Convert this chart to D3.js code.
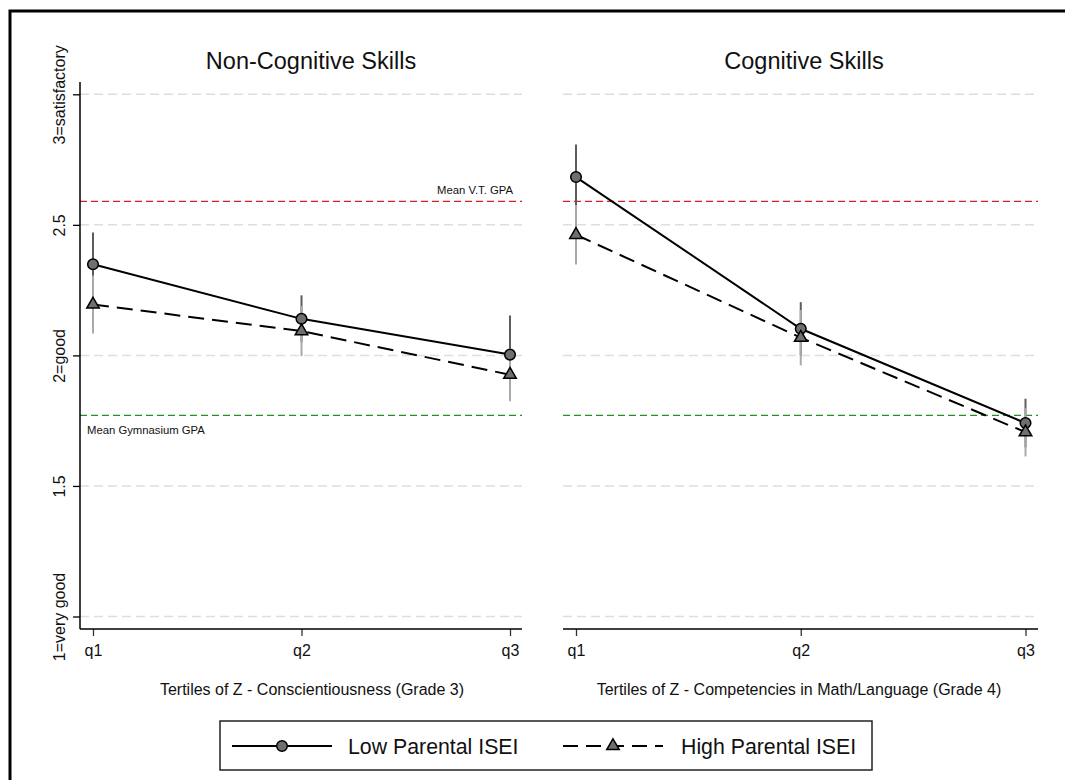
<!DOCTYPE html>
<html>
<head>
<meta charset="utf-8">
<script src="https://cdn.jsdelivr.net/npm/d3@7"></script>
<style>
  html, body { margin: 0; padding: 0; background: #fff; }
  svg { display: block; font-family: "Liberation Sans", Arial, Helvetica, sans-serif; }
</style>
</head>
<body>
<svg id="chart" width="1065" height="780"></svg>
<script>
// Tertile categories shared by both panels
const categories = ["q1", "q2", "q3"];

// Non-cognitive skills panel: predicted GPA with confidence bounds
const nonCogLowMean  = [2.349, 2.140, 2.003];
const nonCogLowLo    = [2.227, 2.050, 1.853];
const nonCogLowHi    = [2.471, 2.230, 2.153];
const nonCogHighMean = [2.195, 2.093, 1.926];
const nonCogHighLo   = [2.084, 1.997, 1.824];
const nonCogHighHi   = [2.306, 2.189, 2.028];

// Cognitive skills panel
const cogLowMean  = [2.683, 2.102, 1.741];
const cogLowLo    = [2.558, 2.000, 1.648];
const cogLowHi    = [2.808, 2.204, 1.834];
const cogHighMean = [2.462, 2.068, 1.706];
const cogHighLo   = [2.348, 1.962, 1.613];
const cogHighHi   = [2.576, 2.174, 1.799];

// Reference means
const meanVT = 2.59;
const meanGym = 1.77;

// Axis ticks
const yTickValues = [1, 1.5, 2, 2.5, 3];
const yTickLabels = ["1=very good", "1.5", "2=good", "2.5", "3=satisfactory"];

const panelTitles = ["Non-Cognitive Skills", "Cognitive Skills"];
const xTitles = ["Tertiles of Z - Conscientiousness (Grade 3)",
                 "Tertiles of Z - Competencies in Math/Language (Grade 4)"];
const legendLabels = ["Low Parental ISEI", "High Parental ISEI"];

const svg = d3.select("#chart");

// Outer frame
svg.append("rect")
  .attr("x", 10).attr("y", 11).attr("width", 1200).attr("height", 900)
  .attr("fill", "none").attr("stroke", "#000").attr("stroke-width", 3);

const y = d3.scaleLinear().domain([1, 3]).range([616.5, 94.3]);
const plotTop = 82, plotBottom = 629;

const panels = [
  {
    left: 80, right: 522, xr: [93, 510], titleX: 311, xTitleX: 312, yAxis: true, labels: true,
    low: {mean: nonCogLowMean, lo: nonCogLowLo, hi: nonCogLowHi},
    high: {mean: nonCogHighMean, lo: nonCogHighLo, hi: nonCogHighHi}
  },
  {
    left: 563, right: 1038, xr: [576, 1025.5], titleX: 804, xTitleX: 799, yAxis: false, labels: false,
    low: {mean: cogLowMean, lo: cogLowLo, hi: cogLowHi},
    high: {mean: cogHighMean, lo: cogHighLo, hi: cogHighHi}
  }
];

const markerFill = "#6f6f6f";
const triangle = d3.symbol().type(d3.symbolTriangle).size(68);

panels.forEach((p, pi) => {
  const x = d3.scalePoint().domain(categories).range(p.xr);
  const g = svg.append("g");

  // Horizontal grid
  g.selectAll("line.grid").data(yTickValues).join("line")
    .attr("x1", p.left).attr("x2", p.right)
    .attr("y1", d => y(d)).attr("y2", d => y(d))
    .attr("stroke", "#dedede").attr("stroke-width", 1.5)
    .attr("stroke-dasharray", "9,5");

  // Reference means
  [[meanVT, "#d81e1e"], [meanGym, "#23902a"]].forEach(([v, c]) => {
    g.append("line")
      .attr("x1", p.left).attr("x2", p.right)
      .attr("y1", y(v)).attr("y2", y(v))
      .attr("stroke", c).attr("stroke-width", 1.3)
      .attr("stroke-dasharray", "7,4");
  });
  if (p.labels) {
    g.append("text").attr("x", 513).attr("y", y(meanVT) - 7)
      .attr("text-anchor", "end").attr("font-size", 11.3).attr("fill", "#111")
      .text("Mean V.T. GPA");
    g.append("text").attr("x", 87).attr("y", y(meanGym) + 19)
      .attr("font-size", 11.3).attr("fill", "#111")
      .text("Mean Gymnasium GPA");
  }

  // Confidence intervals
  const ciColors = ["#5c5c5c", "#a9a9a9"];
  [p.low, p.high].forEach((s, si) => {
    g.selectAll(null).data(categories).join("line")
      .attr("x1", d => x(d)).attr("x2", d => x(d))
      .attr("y1", (d, i) => y(s.lo[i])).attr("y2", (d, i) => y(s.hi[i]))
      .attr("stroke", ciColors[si]).attr("stroke-width", 2);
  });

  // Connected lines
  const line = d3.line().x((d, i) => x(categories[i])).y(d => y(d));
  g.append("path").datum(p.low.mean).attr("d", line)
    .attr("fill", "none").attr("stroke", "#000").attr("stroke-width", 2);
  g.append("path").datum(p.high.mean).attr("d", line)
    .attr("fill", "none").attr("stroke", "#000").attr("stroke-width", 2)
    .attr("stroke-dasharray", "16,8");

  // Markers
  g.selectAll(null).data(p.low.mean).join("circle")
    .attr("cx", (d, i) => x(categories[i])).attr("cy", d => y(d))
    .attr("r", 5.3).attr("fill", markerFill)
    .attr("stroke", "#000").attr("stroke-width", 1.5);
  g.selectAll(null).data(p.high.mean).join("path")
    .attr("d", triangle)
    .attr("transform", (d, i) => `translate(${x(categories[i])},${y(d)})`)
    .attr("fill", markerFill).attr("stroke", "#000").attr("stroke-width", 1.5);

  // X axis
  const xAxis = d3.axisBottom(x).tickSize(7).tickPadding(9);
  const xg = g.append("g").attr("transform", `translate(0,${plotBottom})`).call(xAxis);
  xg.select(".domain").remove();
  xg.append("line").attr("x1", p.left).attr("x2", p.right).attr("y1", 0).attr("y2", 0)
    .attr("stroke", "#000").attr("stroke-width", 1.5);
  xg.selectAll(".tick line").attr("stroke", "#333").attr("stroke-width", 1.3);
  xg.selectAll(".tick text").attr("font-size", 16).attr("fill", "#111")
    .attr("font-family", "Liberation Sans, Arial, sans-serif");

  g.append("text").attr("x", p.xTitleX).attr("y", 695)
    .attr("text-anchor", "middle").attr("font-size", 16).attr("fill", "#111")
    .text(xTitles[pi]);

  // Panel title
  g.append("text").attr("x", p.titleX).attr("y", 69)
    .attr("text-anchor", "middle").attr("font-size", 23.5).attr("fill", "#111")
    .text(panelTitles[pi]);

  // Y axis (left panel only)
  if (p.yAxis) {
    const yAxis = d3.axisLeft(y).tickValues(yTickValues).tickSize(7)
      .tickFormat((d, i) => yTickLabels[i]);
    const yg = g.append("g").attr("transform", `translate(${p.left},0)`).call(yAxis);
    yg.select(".domain").remove();
    yg.append("line").attr("x1", 0).attr("x2", 0).attr("y1", plotTop).attr("y2", plotBottom)
      .attr("stroke", "#000").attr("stroke-width", 1.5);
    yg.selectAll(".tick line").attr("stroke", "#000").attr("stroke-width", 1.3);
    yg.selectAll(".tick text")
      .attr("x", null).attr("dy", null)
      .attr("transform", "translate(-15,0) rotate(-90)")
      .attr("text-anchor", "middle").attr("font-size", 16).attr("fill", "#111")
      .attr("font-family", "Liberation Sans, Arial, sans-serif");
  }
});

// Legend
const lg = svg.append("g");
lg.append("rect").attr("x", 220).attr("y", 721).attr("width", 652).attr("height", 49)
  .attr("fill", "#fff").attr("stroke", "#222").attr("stroke-width", 1.5);
const legendY = 746;
lg.append("line").attr("x1", 232).attr("x2", 332).attr("y1", legendY).attr("y2", legendY)
  .attr("stroke", "#000").attr("stroke-width", 2);
lg.append("circle").attr("cx", 282).attr("cy", legendY).attr("r", 5.3)
  .attr("fill", markerFill).attr("stroke", "#000").attr("stroke-width", 1.5);
lg.append("text").attr("x", 348).attr("y", 753.5).attr("font-size", 21.3).attr("fill", "#111")
  .text(legendLabels[0]);
lg.append("line").attr("x1", 563).attr("x2", 663).attr("y1", legendY).attr("y2", legendY)
  .attr("stroke", "#000").attr("stroke-width", 2).attr("stroke-dasharray", "15,8");
lg.append("path").attr("d", triangle)
  .attr("transform", `translate(613,${legendY})`)
  .attr("fill", markerFill).attr("stroke", "#000").attr("stroke-width", 1.5);
lg.append("text").attr("x", 681).attr("y", 753.5).attr("font-size", 21.3).attr("fill", "#111")
  .text(legendLabels[1]);
</script>
</body>
</html>
